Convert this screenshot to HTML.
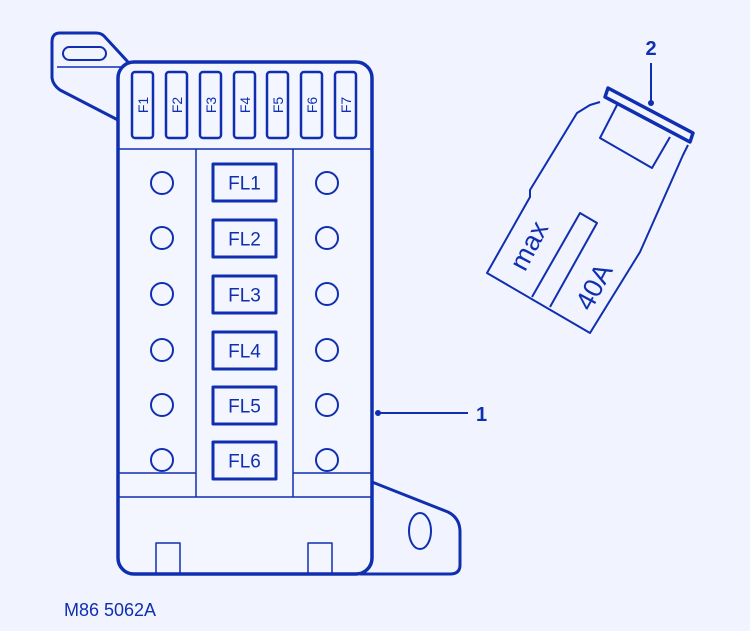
<!DOCTYPE html>
<html><head><style>
html,body{margin:0;padding:0;background:#f1f4fe;}
svg{display:block;}
text{font-family:"Liberation Sans",sans-serif;fill:#0f2fb0;}
</style></head><body>
<svg width="750" height="631" viewBox="0 0 750 631">
<rect width="750" height="631" fill="#f1f4fe"/>
<g fill="none" stroke="#0f2fb0" stroke-linejoin="round">
<path d="M128,62 L104,36 Q101,33 96,33 L60,33 Q52,33 52,42 L52,78 Q53,85 60,90 L118,120" stroke-width="3"/>
<rect x="63" y="47" width="43" height="13" rx="6.5" stroke-width="2"/>
<line x1="57" y1="67" x2="124" y2="67" stroke-width="1.5"/>
<path d="M372,482 L448,512 Q460,518 460,532 L460,565 Q460,574 450,574 L360,574" stroke-width="3"/>
<ellipse cx="420" cy="531" rx="11" ry="18" stroke-width="2"/>
<rect x="118" y="62" width="254" height="512" rx="16" stroke-width="3.5" fill="#f3f6ff"/>
<g stroke-width="2.5">
<rect x="132" y="72" width="21" height="66" rx="3"/>
<rect x="166" y="72" width="21" height="66" rx="3"/>
<rect x="200" y="72" width="21" height="66" rx="3"/>
<rect x="234" y="72" width="21" height="66" rx="3"/>
<rect x="267" y="72" width="21" height="66" rx="3"/>
<rect x="301" y="72" width="21" height="66" rx="3"/>
<rect x="335" y="72" width="21" height="66" rx="3"/>
</g>
<g stroke-width="1.5">
<line x1="118" y1="149" x2="372" y2="149"/>
<line x1="196" y1="149" x2="196" y2="497"/>
<line x1="293" y1="149" x2="293" y2="497"/>
<line x1="118" y1="473" x2="196" y2="473"/>
<line x1="293" y1="473" x2="372" y2="473"/>
<line x1="118" y1="497" x2="372" y2="497"/>
<path d="M156,574 L156,543 L180,543 L180,574"/>
<path d="M308,574 L308,543 L332,543 L332,574"/>
</g>
<g stroke-width="2">
<circle cx="162" cy="183" r="11"/><circle cx="327" cy="183" r="11"/>
<circle cx="162" cy="238" r="11"/><circle cx="327" cy="238" r="11"/>
<circle cx="162" cy="294" r="11"/><circle cx="327" cy="294" r="11"/>
<circle cx="162" cy="350" r="11"/><circle cx="327" cy="350" r="11"/>
<circle cx="162" cy="405" r="11"/><circle cx="327" cy="405" r="11"/>
<circle cx="162" cy="460" r="11"/><circle cx="327" cy="460" r="11"/>
</g>
<g stroke-width="3">
<rect x="213" y="164" width="63" height="37"/>
<rect x="213" y="220" width="63" height="37"/>
<rect x="213" y="276" width="63" height="37"/>
<rect x="213" y="332" width="63" height="37"/>
<rect x="213" y="387" width="63" height="37"/>
<rect x="213" y="442" width="63" height="37"/>
</g>
<line x1="378" y1="413" x2="468" y2="413" stroke-width="2"/>
<line x1="651" y1="63" x2="651" y2="103" stroke-width="2"/>
<path d="M600,102 L590,105 L577,113 L530,190 L530,197 L487,273 L590,333 L598,320 L640,252 L683,155 L688,145" stroke-width="2"/>
<path d="M608,88 L693,133 L690,142 L605,97 Z" stroke-width="3.5"/>
<path d="M617,105 L600,138 L652,168 L670,137" stroke-width="2"/>
<path d="M532,297 L580,213 L597,223 L550,307" stroke-width="2"/>
</g>
<circle cx="378" cy="413" r="3" fill="#0f2fb0"/>
<circle cx="651" cy="103" r="3" fill="#0f2fb0"/>
<g font-size="14">
<text transform="translate(148,105) rotate(-90)" text-anchor="middle">F1</text>
<text transform="translate(182,105) rotate(-90)" text-anchor="middle">F2</text>
<text transform="translate(216,105) rotate(-90)" text-anchor="middle">F3</text>
<text transform="translate(250,105) rotate(-90)" text-anchor="middle">F4</text>
<text transform="translate(283,105) rotate(-90)" text-anchor="middle">F5</text>
<text transform="translate(317,105) rotate(-90)" text-anchor="middle">F6</text>
<text transform="translate(351,105) rotate(-90)" text-anchor="middle">F7</text>
</g>
<g font-size="19" text-anchor="middle">
<text x="244.5" y="189.5">FL1</text>
<text x="244.5" y="245.5">FL2</text>
<text x="244.5" y="301.5">FL3</text>
<text x="244.5" y="357.5">FL4</text>
<text x="244.5" y="412.5">FL5</text>
<text x="244.5" y="467.5">FL6</text>
</g>
<text x="476" y="421" font-size="20" font-weight="bold">1</text>
<text x="651" y="55" font-size="20" font-weight="bold" text-anchor="middle">2</text>
<text transform="translate(537,250) rotate(-62)" font-size="27" text-anchor="middle">max</text>
<text transform="translate(602,291) rotate(-62)" font-size="27" text-anchor="middle">40A</text>
<text x="64" y="616" font-size="18">M86 5062A</text>
</svg>
</body></html>
